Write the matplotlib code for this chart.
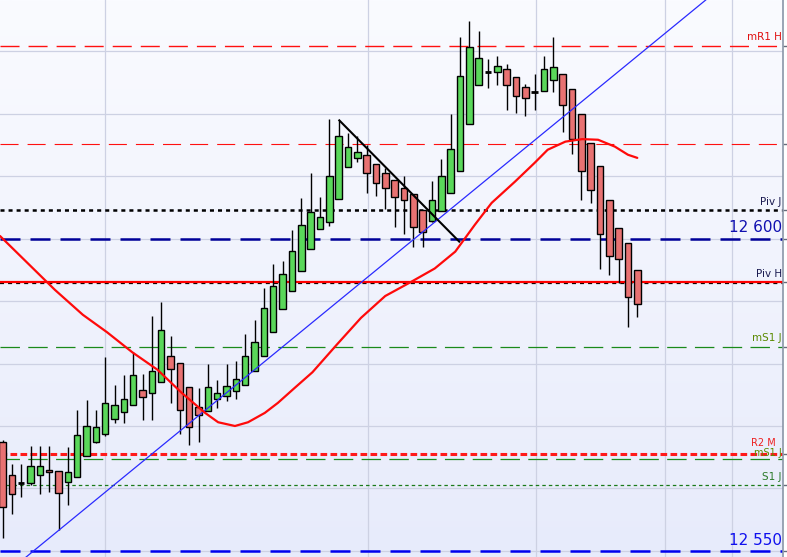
import numpy as np
import matplotlib
matplotlib.use("Agg")
import matplotlib.pyplot as plt
from matplotlib.colors import LinearSegmentedColormap

plt.rcParams['lines.scale_dashes'] = False

# candles (price)
opens = [12.5674, 12.5621, 12.5608, 12.5608, 12.5621, 12.5629, 12.5628, 12.5610, 12.5618, 12.5652,
         12.5675, 12.5687, 12.5711, 12.5722, 12.5733, 12.5758, 12.5752, 12.5770, 12.5812, 12.5800,
         12.5762, 12.5730, 12.5724, 12.5743, 12.5748, 12.5756, 12.5765, 12.5788, 12.5812, 12.5850,
         12.5887, 12.5916, 12.5948, 12.5984, 12.6015, 12.6026, 12.6063, 12.6114, 12.6129, 12.6133,
         12.6119, 12.6104, 12.6093, 12.6080, 12.6071, 12.6045, 12.6028, 12.6044, 12.6072, 12.6108,
         12.6183, 12.6245, 12.6266, 12.6266, 12.6271, 12.6258, 12.6242, 12.6234, 12.6236, 12.6253,
         12.6263, 12.6239, 12.6199, 12.6152, 12.6116, 12.6061, 12.6016, 12.5992, 12.5949]
closes = [12.5570, 12.5591, 12.5608, 12.5636, 12.5636, 12.5626, 12.5592, 12.5626, 12.5685, 12.5700,
          12.5698, 12.5736, 12.5733, 12.5743, 12.5781, 12.5746, 12.5788, 12.5853, 12.5791, 12.5725,
          12.5698, 12.5717, 12.5762, 12.5752, 12.5764, 12.5775, 12.5812, 12.5834, 12.5888, 12.5924,
          12.5943, 12.5980, 12.6021, 12.6043, 12.6035, 12.6100, 12.6164, 12.6146, 12.6138, 12.6104,
          12.6089, 12.6081, 12.6067, 12.6061, 12.6018, 12.6010, 12.6061, 12.6100, 12.6143, 12.6260,
          12.6307, 12.6288, 12.6266, 12.6276, 12.6245, 12.6228, 12.6224, 12.6234, 12.6271, 12.6274,
          12.6213, 12.6159, 12.6108, 12.6077, 12.6008, 12.5972, 12.5967, 12.5906, 12.5895]
highs = [12.5678, 12.5639, 12.5640, 12.5668, 12.5668, 12.5668, 12.5628, 12.5666, 12.5726, 12.5742,
         12.5726, 12.5810, 12.5766, 12.5782, 12.5819, 12.5783, 12.5876, 12.5898, 12.5844, 12.5800,
         12.5762, 12.5760, 12.5800, 12.5773, 12.5799, 12.5804, 12.5848, 12.5870, 12.5920, 12.5959,
         12.5964, 12.6013, 12.6065, 12.6104, 12.6066, 12.6191, 12.6189, 12.6169, 12.6164, 12.6150,
         12.6119, 12.6112, 12.6093, 12.6100, 12.6071, 12.6045, 12.6092, 12.6127, 12.6199, 12.6322,
         12.6348, 12.6332, 12.6287, 12.6292, 12.6279, 12.6258, 12.6247, 12.6263, 12.6292, 12.6322,
         12.6263, 12.6239, 12.6199, 12.6152, 12.6116, 12.6061, 12.6016, 12.5992, 12.5949]
lows = [12.5521, 12.5560, 12.5586, 12.5606, 12.5591, 12.5594, 12.5534, 12.5573, 12.5618, 12.5652,
        12.5673, 12.5684, 12.5705, 12.5705, 12.5733, 12.5710, 12.5710, 12.5770, 12.5737, 12.5688,
        12.5670, 12.5675, 12.5724, 12.5728, 12.5740, 12.5743, 12.5765, 12.5788, 12.5812, 12.5850,
        12.5887, 12.5916, 12.5948, 12.5984, 12.6015, 12.6020, 12.6063, 12.6114, 12.6123, 12.6073,
        12.6068, 12.6047, 12.6018, 12.6007, 12.5986, 12.5986, 12.6026, 12.6044, 12.6072, 12.6108,
        12.6183, 12.6245, 12.6241, 12.6246, 12.6206, 12.6201, 12.6196, 12.6206, 12.6236, 12.6234,
        12.6171, 12.6136, 12.6061, 12.6056, 12.5952, 12.5941, 12.5928, 12.5858, 12.5874]

# moving average (index, price)
ma_x = [-0.27, 5.6, 8.6, 11.2, 13.9, 16.6, 19.2, 21.7, 23.1, 24.9, 26.3, 28.1, 29.5, 31.3, 33.2,
        35.8, 38.4, 41.0, 43.7, 46.3, 48.5, 50.6, 52.4, 54.9, 57.0, 58.4, 60.3, 62.1, 63.8, 65.6,
        67.0, 68.0]
ma_y = [12.6004, 12.5918, 12.5878, 12.5850, 12.5818, 12.5790, 12.5753, 12.5721, 12.5706, 12.5700,
        12.5706, 12.5721, 12.5737, 12.5761, 12.5786, 12.5830, 12.5873, 12.5908, 12.5930, 12.5952,
        12.5979, 12.6022, 12.6057, 12.6091, 12.6121, 12.6142, 12.6155, 12.6159, 12.6158, 12.6147,
        12.6134, 12.6129]

# trend lines
trend_up = [(5.44, 12.5526), (68.83, 12.6302)]
trend_down = [(36.08, 12.6189), (48.93, 12.5995)]

# horizontal levels
lvl_mr1h = 12.6308
lvl_red2 = 12.6152
lvl_pivj = 12.6046
lvl_12600 = 12.600
lvl_pivh = 12.5931
lvl_pivh_b = 12.5928
lvl_ms1j = 12.5827
lvl_r2m = 12.5655
lvl_ms1h = 12.5648
lvl_s1j = 12.5606
lvl_12550 = 12.550

price_grid = [12.55, 12.56, 12.57, 12.58, 12.59, 12.60, 12.61, 12.62, 12.63]
day_breaks = [11.0, 39.1, 57.1, 71.0, 78.1]

fig = plt.figure(figsize=(7.87, 5.57), dpi=100)
ax = fig.add_axes([0, 0, 783 / 787, 1])

# background gradient
grad = np.linspace(0, 1, 256).reshape(-1, 1)
bg = LinearSegmentedColormap.from_list("bg", ["#fafbff", "#e7ebfb"])
ax.imshow(grad, extent=[0, 1, 0, 1], transform=ax.transAxes, cmap=bg, aspect="auto", zorder=0)

for p in price_grid:
    ax.axhline(p, color="#cdd1e3", lw=0.9, zorder=1)
for d in day_breaks:
    ax.axvline(d, color="#cdd1e3", lw=0.9, zorder=1)

# level lines
ax.axhline(lvl_mr1h, color="#ff1010", lw=1.0, dashes=(13.7, 6.5), zorder=2)
ax.axhline(lvl_red2, color="#ff1010", lw=0.8, dashes=(13, 6.5), zorder=2)
ax.axhline(lvl_pivj, color="black", lw=1.8, dashes=(2.9, 2.9), zorder=2)
ax.axhline(lvl_12600, color="#000099", lw=1.8, dashes=(14.4, 7.2), zorder=2)
ax.axhline(lvl_pivh_b, color="black", lw=1.6, dashes=(2.9, 2.9), zorder=2)
ax.axhline(lvl_pivh, color="#ff0000", lw=1.6, zorder=2)
ax.axhline(lvl_ms1j, color="#1a8a1a", lw=0.9, dashes=(14, 6), zorder=2)
ax.axhline(lvl_ms1h, color="#1a8a1a", lw=0.9, dashes=(14, 6), zorder=2)
ax.axhline(lvl_r2m, color="#ff1a1a", lw=2.2, dashes=(4.8, 2.4), zorder=2)
ax.axhline(lvl_s1j, color="#1a7a1a", lw=0.9, dashes=(2.5, 2.2), zorder=2)
ax.axhline(lvl_12550, color="#0000ee", lw=1.8, dashes=(14.4, 7.2), zorder=2)

# candles
idx = np.arange(len(opens))
o = np.array(opens)
c = np.array(closes)
ax.vlines(idx, lows, highs, color="black", lw=1.0, zorder=3)
up = c > o
dn = c < o
dj = c == o
ax.bar(idx[up], (c - o)[up], bottom=o[up], width=0.7, color="#5ad85a",
       edgecolor="black", linewidth=1.0, zorder=4)
ax.bar(idx[dn], (o - c)[dn], bottom=c[dn], width=0.7, color="#e87272",
       edgecolor="black", linewidth=1.0, zorder=4)
ax.hlines(o[dj], idx[dj] - 0.35, idx[dj] + 0.35, color="black", lw=2.0, zorder=4)

# trend lines and moving average
ax.axline(trend_up[0], trend_up[1], color="#2a2aff", lw=0.9, zorder=5)
ax.plot([trend_down[0][0], trend_down[1][0]], [trend_down[0][1], trend_down[1][1]],
        color="black", lw=1.5, zorder=5)
ax.plot(ma_x, ma_y, color="#ff0a0a", lw=1.6, zorder=5, solid_capstyle="round")

ax.set_xlim(-0.27, 83.61)
ax.set_ylim(12.54904, 12.63816)

# right-side labels
tr = ax.get_yaxis_transform()
lx = 0.9985
ax.text(lx, lvl_mr1h + 0.0006, "mR1 H", transform=tr, ha="right", va="bottom",
        color="#e01010", fontsize=7.5)
ax.text(lx, lvl_pivj + 0.0005, "Piv J", transform=tr, ha="right", va="bottom",
        color="#1a1a50", fontsize=7.5)
ax.text(lx, lvl_12600 + 0.0005, "12 600", transform=tr, ha="right", va="bottom",
        color="#1010b0", fontsize=11)
ax.text(lx, lvl_pivh + 0.0004, "Piv H", transform=tr, ha="right", va="bottom",
        color="#1a1a50", fontsize=7.5)
ax.text(lx, lvl_ms1j + 0.0005, "mS1 J", transform=tr, ha="right", va="bottom",
        color="#5a8a00", fontsize=7.5)
ax.text(lx, lvl_ms1h + 0.0001, "mS1 J", transform=tr, ha="right", va="bottom",
        color="#5a8a00", fontsize=7)
ax.text(lx - 0.008, lvl_r2m + 0.0010, "R2 M", transform=tr, ha="right", va="bottom",
        color="#ee2020", fontsize=7)
ax.text(lx, lvl_s1j + 0.0005, "S1 J", transform=tr, ha="right", va="bottom",
        color="#2a7a2a", fontsize=7.5)
ax.text(lx, lvl_12550 + 0.0005, "12 550", transform=tr, ha="right", va="bottom",
        color="#1010ee", fontsize=11)

for s in ["left", "top", "bottom"]:
    ax.spines[s].set_visible(False)
ax.spines["right"].set_color("#8a96a8")
ax.spines["right"].set_linewidth(1.2)
ax.set_xticks([])
ax.yaxis.tick_right()
ax.set_yticks([lvl_mr1h, lvl_red2, lvl_pivj, lvl_12600, lvl_pivh, lvl_ms1j, lvl_r2m,
               lvl_s1j, lvl_12550])
ax.set_yticklabels([])
ax.tick_params(axis="y", direction="out", length=3, color="#666c7a", width=1)

fig.savefig("out.png", dpi=100)
